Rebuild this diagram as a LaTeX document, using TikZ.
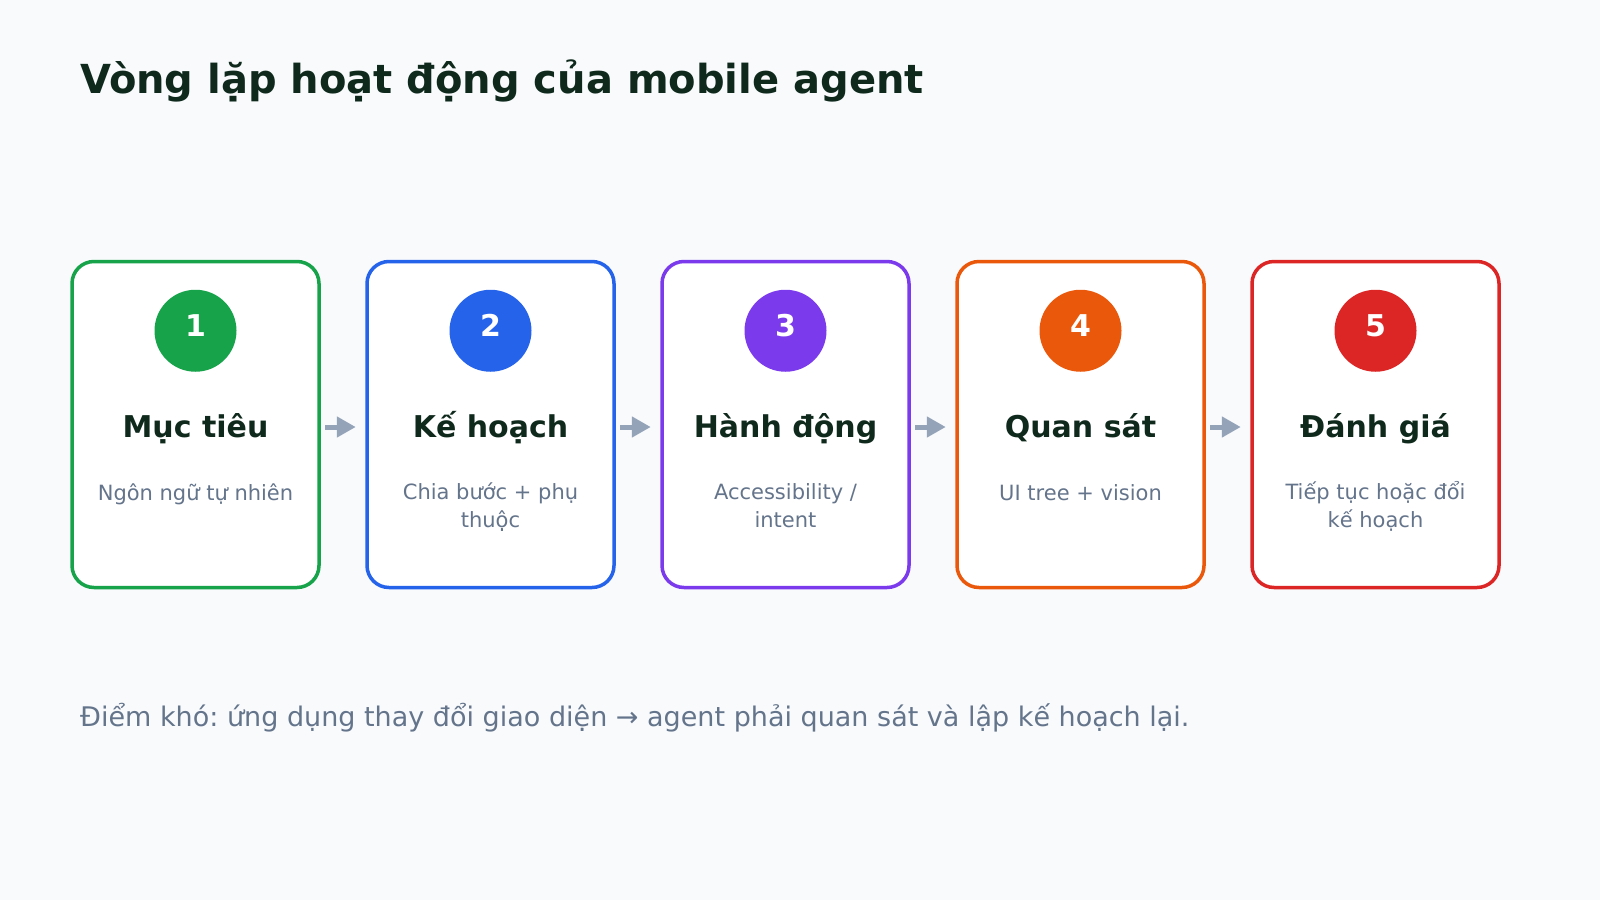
\documentclass[tikz,border=0pt]{standalone}
\usepackage{fontspec}
\setmainfont{DejaVu Sans}
\usetikzlibrary{positioning,arrows.meta}
\frenchspacing

\definecolor{nen}{HTML}{F8FAFC}
\definecolor{chudam}{HTML}{0F2A1D}
\definecolor{chuxam}{HTML}{64748B}
\definecolor{muiten}{HTML}{94A3B8}
\definecolor{xanhla}{HTML}{16A34A}
\definecolor{xanhduong}{HTML}{2563EB}
\definecolor{tim}{HTML}{7C3AED}
\definecolor{cam}{HTML}{EA580C}
\definecolor{do}{HTML}{DC2626}

\tikzset{
	the/.style={draw=#1, fill=white, line width=3.5pt, rounded corners=22pt, minimum width=247pt, minimum height=326pt},
	so/.style={circle, fill=#1, text=white, minimum size=82pt, inner sep=0pt, text depth=10pt, font=\fontsize{30}{30}\selectfont\bfseries},
	tieude/.style={anchor=base, text=chudam, inner sep=0pt, font=\fontsize{30}{36}\selectfont\bfseries},
	mota/.style={anchor=base, text=chuxam, inner sep=0pt, align=center, font=\fontsize{21}{28}\selectfont},
	buoc/.style={muiten, line width=5pt, shorten <=4.7pt, shorten >=9.5pt, -{Triangle[length=19pt, width=20pt]}}
}

\begin{document}
\begin{tikzpicture}[x=1pt, y=-1pt]
	\fill[nen] (0,0) rectangle (1600,900);
	\useasboundingbox (0,0) rectangle (1600,900);

	\node (Tieude) [anchor=base west, inner sep=0pt, text=chudam, font=\fontsize{40}{48}\selectfont\bfseries] at (80,93) {Vòng lặp hoạt động của mobile agent};

	\node (Muctieu) [the=xanhla] at (195.5,424.5) {};
	\node (Kehoach) [the=xanhduong, right=44.5pt of Muctieu] {};
	\node (Hanhdong) [the=tim, right=44.5pt of Kehoach] {};
	\node (Quansat) [the=cam, right=44.5pt of Hanhdong] {};
	\node (Danhgia) [the=do, right=44.5pt of Quansat] {};

	\node (So1) [so=xanhla] at ([yshift=-71pt]Muctieu.north) {1};
	\node (So2) [so=xanhduong] at ([yshift=-71pt]Kehoach.north) {2};
	\node (So3) [so=tim] at ([yshift=-71pt]Hanhdong.north) {3};
	\node (So4) [so=cam] at ([yshift=-71pt]Quansat.north) {4};
	\node (So5) [so=do] at ([yshift=-71pt]Danhgia.north) {5};

	\node (Muctieu-ten) [tieude] at ([yshift=-13pt]Muctieu.center) {Mục tiêu};
	\node (Kehoach-ten) [tieude] at ([yshift=-13pt]Kehoach.center) {Kế hoạch};
	\node (Hanhdong-ten) [tieude] at ([yshift=-13pt]Hanhdong.center) {Hành động};
	\node (Quansat-ten) [tieude] at ([yshift=-13pt]Quansat.center) {Quan sát};
	\node (Danhgia-ten) [tieude] at ([yshift=-13pt]Danhgia.center) {Đánh giá};

	% base = last line, so two-line texts sit one line lower
	\node (Muctieu-mota) [mota] at ([yshift=-75.5pt]Muctieu.center) {Ngôn ngữ tự nhiên};
	\node (Kehoach-mota) [mota] at ([yshift=-103pt]Kehoach.center) {Chia bước + phụ\\thuộc};
	\node (Hanhdong-mota) [mota] at ([yshift=-103pt]Hanhdong.center) {Accessibility /\\intent};
	\node (Quansat-mota) [mota] at ([yshift=-75.5pt]Quansat.center) {UI tree + vision};
	\node (Danhgia-mota) [mota] at ([yshift=-103pt]Danhgia.center) {Tiếp tục hoặc đổi\\kế hoạch};

	\draw[buoc] ([yshift=-2.5pt]Muctieu.east) -- ([yshift=-2.5pt]Kehoach.west);
	\draw[buoc] ([yshift=-2.5pt]Kehoach.east) -- ([yshift=-2.5pt]Hanhdong.west);
	\draw[buoc] ([yshift=-2.5pt]Hanhdong.east) -- ([yshift=-2.5pt]Quansat.west);
	\draw[buoc] ([yshift=-2.5pt]Quansat.east) -- ([yshift=-2.5pt]Danhgia.west);

	\node (Ghichu) [anchor=base west, inner sep=0pt, text=chuxam, font=\fontsize{27}{34}\selectfont] at (80,726) {Điểm khó: ứng dụng thay đổi giao diện → agent phải quan sát và lập kế hoạch lại.};
\end{tikzpicture}
\end{document}
